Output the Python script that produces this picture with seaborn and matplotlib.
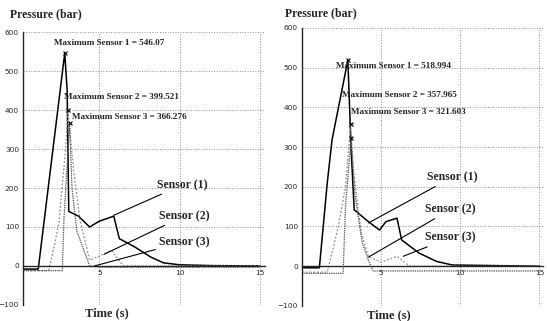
import matplotlib
matplotlib.use("Agg")
import matplotlib.pyplot as plt
import seaborn as sns

# sensor traces, left test (time s / pressure bar)
t1_a = [0, 1.2, 2.85, 3.0, 3.1, 3.7, 4.4, 5.0, 5.5, 5.9, 6.25, 7.2, 8.2, 9.0, 10.0, 12.0, 15.0]
p1_a = [-8, -8, 546.07, 450, 140, 128, 100, 115, 122, 128, 70, 49, 23, 8, 3, 1, 0]
t2_a = [0, 1.85, 2.2, 2.5, 2.9, 3.05, 3.4, 3.8, 4.4, 5.0, 5.75, 6.5, 15.0]
p2_a = [-12, -12, 51, 115, 300, 399.521, 246, 118, 15, 25, 40, 0, 0]
t3_a = [0, 2.7, 2.8, 3.15, 3.3, 3.6, 4.4, 5.0, 15.0]
p3_a = [-12, -12, 120, 366.276, 200, 90, 0, -3, -3]

# right test
t1_b = [0, 1.1, 1.6, 1.9, 2.9, 3.1, 3.3, 4.2, 4.9, 5.3, 6.0, 6.3, 7.4, 8.5, 9.5, 15.0]
p1_b = [-4, -4, 210, 318, 518.994, 300, 142, 112, 91, 112, 121, 66, 33, 12, 3, 0]
t2_b = [0, 1.6, 2.3, 2.75, 3.07, 3.25, 3.75, 4.2, 5.0, 6.0, 6.8, 15.0]
p2_b = [-15, -15, 100, 200, 357.965, 242, 84, 24, 10, 25, 0, 0]
t3_b = [0, 2.6, 2.75, 3.1, 3.35, 3.8, 4.2, 4.5, 15.0]
p3_b = [-18, -18, 150, 321.603, 180, 60, 15, -12, -12]

yticks = [-100, 0, 100, 200, 300, 400, 500, 600]
xticks = [5, 10, 15]

panels = [
    dict(rect=[0.042, 0.050, 0.442, 0.850], xlim=(0.25, 15.3),
         traces=[(t1_a, p1_a), (t2_a, p2_a), (t3_a, p3_a)],
         maxlab=[("Maximum Sensor 1 = 546.07", 2.2, 572),
                 ("Maximum Sensor 2 = 399.521", 2.8, 433),
                 ("Maximum Sensor 3 = 366.276", 3.3, 382)],
         senslab=[("Sensor (1)", 8.6, 208, 5.9, 130),
                  ("Sensor (2)", 8.7, 128, 5.3, 30),
                  ("Sensor (3)", 8.7, 62, 4.7, 0)]),
    dict(rect=[0.552, 0.047, 0.440, 0.866], xlim=(0.0, 15.2),
         traces=[(t1_b, p1_b), (t2_b, p2_b), (t3_b, p3_b)],
         maxlab=[("Maximum Sensor 1 = 518.994", 2.15, 503),
                 ("Maximum Sensor 2 = 357.965", 2.5, 431),
                 ("Maximum Sensor 3 = 321.603", 3.1, 388)],
         senslab=[("Sensor (1)", 7.9, 224, 4.2, 109),
                  ("Sensor (2)", 7.8, 143, 4.2, 23),
                  ("Sensor (3)", 7.8, 72, 6.4, 25)]),
]

sns.set_style("white")
serif = ["Liberation Serif", "DejaVu Serif"]
styles = [dict(color="black", linewidth=1.1, linestyle="-"),
          dict(color="0.55", linewidth=0.9, linestyle=(0, (1.5, 1.5))),
          dict(color="0.3", linewidth=0.9, linestyle=(0, (1, 0.8)))]

fig = plt.figure(figsize=(5.47, 3.21), dpi=100)

for pn in panels:
    ax = fig.add_axes(pn["rect"])
    for (t, p), st in zip(pn["traces"], styles):
        sns.lineplot(x=t, y=p, ax=ax, estimator=None, sort=False, legend=False, **st)
        i = p.index(max(p))
        ax.plot(t[i], p[i], marker="x", markersize=3, color="black", mew=0.8)
    ax.set_xlim(*pn["xlim"])
    ax.set_ylim(-100, 600)
    ax.set_yticks(yticks)
    ax.set_xticks(xticks)
    ax.tick_params(labelsize=5.3, length=2, width=0.6, pad=0.8)
    for s in ["top", "right"]:
        ax.spines[s].set_visible(False)
    ax.spines["bottom"].set_position(("data", 0))
    ax.spines["left"].set_linewidth(1)
    ax.spines["bottom"].set_linewidth(1)
    ax.grid(True, linestyle=":", color="0.55", linewidth=0.7)
    ax.set_xlabel("")
    ax.set_ylabel("")
    for txt, x, y in pn["maxlab"]:
        ax.text(x, y, txt, fontsize=6.6, fontweight="bold", family=serif, va="center", ha="left")
    for txt, x, y, x2, y2 in pn["senslab"]:
        ax.annotate(txt, xy=(x2, y2), xytext=(x, y), fontsize=8.5, fontweight="bold",
                    family=serif, va="center", ha="left",
                    arrowprops=dict(arrowstyle="-", color="black", lw=0.8, shrinkA=0, shrinkB=0))

fig.text(0.018, 0.955, "Pressure (bar)", fontsize=8.5, fontweight="bold", family=serif, va="center")
fig.text(0.521, 0.960, "Pressure (bar)", fontsize=8.5, fontweight="bold", family=serif, va="center")
fig.text(0.155, 0.024, "Time (s)", fontsize=9, fontweight="bold", family=serif, va="center")
fig.text(0.671, 0.018, "Time (s)", fontsize=9, fontweight="bold", family=serif, va="center")

plt.savefig("out.png", dpi=100)
